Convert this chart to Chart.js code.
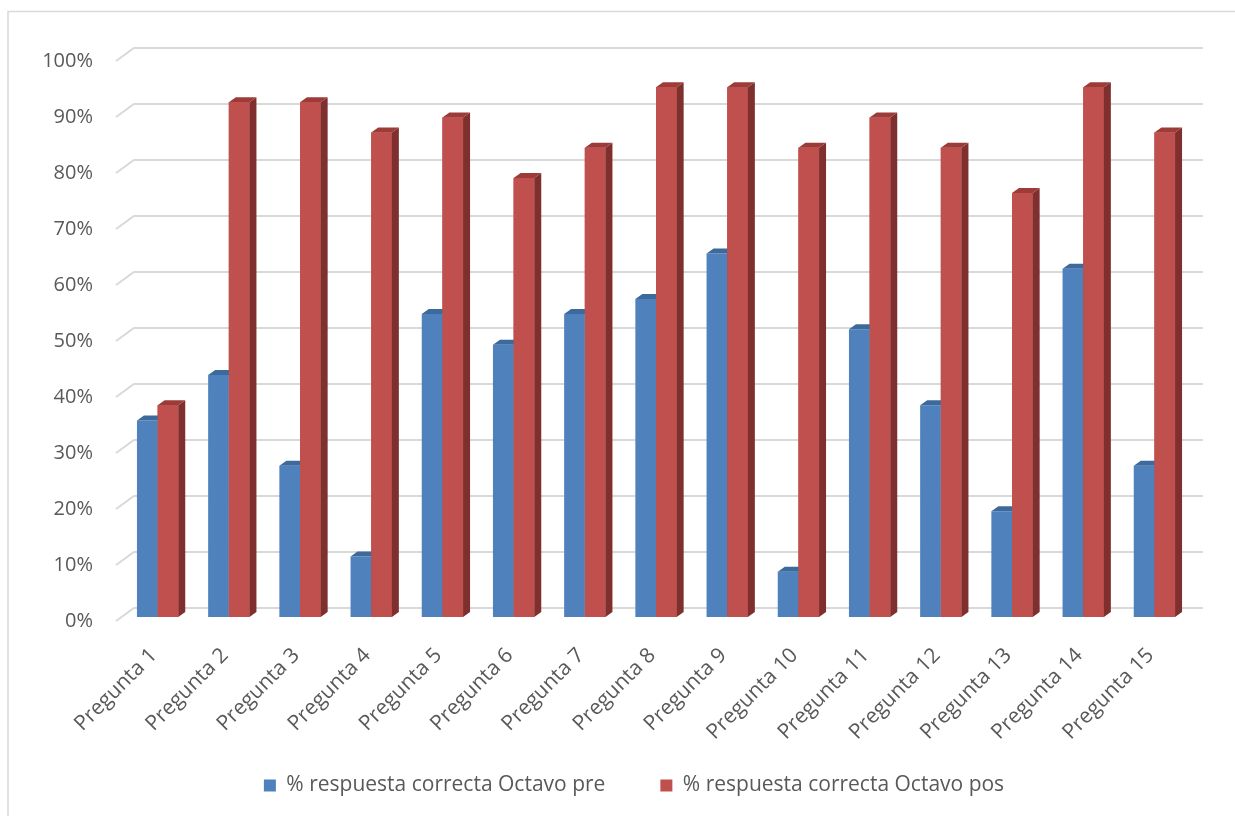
<!DOCTYPE html>
<html>
<head>
<meta charset="utf-8">
<script src="https://cdn.jsdelivr.net/npm/chart.js@4.4.1/dist/chart.umd.min.js"></script>
<style>
  body { margin: 0; background: #fff; }
  #wrap { position: relative; width: 1235px; height: 816px; }
</style>
</head>
<body>
<div id="wrap"><canvas id="barChart" width="1235" height="816"></canvas></div>
<script>
const categories = [
  "Pregunta 1", "Pregunta 2", "Pregunta 3", "Pregunta 4", "Pregunta 5",
  "Pregunta 6", "Pregunta 7", "Pregunta 8", "Pregunta 9", "Pregunta 10",
  "Pregunta 11", "Pregunta 12", "Pregunta 13", "Pregunta 14", "Pregunta 15"
];
const preValues = [35.1, 43.2, 27.0, 10.8, 54.1, 48.6, 54.1, 56.8, 64.9, 8.1, 51.4, 37.8, 18.9, 62.2, 27.0];
const posValues = [37.8, 91.9, 91.9, 86.5, 89.2, 78.4, 83.8, 94.6, 94.6, 83.8, 89.2, 83.8, 75.7, 94.6, 86.5];
const seriesNames = ["% respuesta correcta Octavo pre", "% respuesta correcta Octavo pos"];
const yTicks = [0, 10, 20, 30, 40, 50, 60, 70, 80, 90, 100];

// side / top face colours for the fake 3D look
const faceColors = [
  { side: "#3a6394", top: "#3d6a9c" },
  { side: "#7f2f2d", top: "#9c3b38" }
];
const DEPTH_X = 7, DEPTH_Y = 5;

function drawFaces(c, meta, cols) {
  meta.data.forEach(bar => {
    const p = bar.getProps(["x", "y", "base", "width"], true);
    const l = p.x - p.width / 2, r = p.x + p.width / 2;
    c.fillStyle = cols.side;
    c.beginPath();
    c.moveTo(r, p.y);
    c.lineTo(r + DEPTH_X, p.y - DEPTH_Y);
    c.lineTo(r + DEPTH_X, p.base - DEPTH_Y);
    c.lineTo(r, p.base);
    c.closePath();
    c.fill();
    c.fillStyle = cols.top;
    c.beginPath();
    c.moveTo(l, p.y);
    c.lineTo(l + DEPTH_X, p.y - DEPTH_Y);
    c.lineTo(r + DEPTH_X, p.y - DEPTH_Y);
    c.lineTo(r, p.y);
    c.closePath();
    c.fill();
  });
}

// back wall gridlines with the little slanted floor edge, plus bar depth
const wallGrid = {
  id: "wallGrid",
  beforeDraw(chart) {
    const c = chart.ctx;
    c.save();
    c.strokeStyle = "#d9d9d9";
    c.lineWidth = 1.5;
    c.beginPath();
    c.moveTo(8, 816);
    c.lineTo(8, 11.5);
    c.lineTo(1235, 11.5);
    c.stroke();
    c.restore();
  },
  beforeDatasetsDraw(chart) {
    const c = chart.ctx;
    const y = chart.scales.y;
    const area = chart.chartArea;
    c.save();
    c.strokeStyle = "#d9d9d9";
    c.lineWidth = 2;
    yTicks.forEach(v => {
      const py = y.getPixelForValue(v);
      c.beginPath();
      c.moveTo(area.left - 6, py + 4);
      c.lineTo(area.left + 12, py - 9);
      c.lineTo(area.right + 13, py - 9);
      c.stroke();
    });
    c.restore();
  },
  afterDatasetsDraw(chart) {
    const c = chart.ctx;
    c.save();
    drawFaces(c, chart.getDatasetMeta(0), faceColors[0]);
    // red fronts go over the blue side faces
    const redMeta = chart.getDatasetMeta(1);
    redMeta.data.forEach(bar => bar.draw(c, chart.chartArea));
    drawFaces(c, redMeta, faceColors[1]);
    c.restore();
  }
};

Chart.defaults.font.family = "'Open Sans', sans-serif";
Chart.defaults.color = "#595959";

new Chart(document.getElementById("barChart"), {
  type: "bar",
  data: {
    labels: categories,
    datasets: [
      { label: seriesNames[0], data: preValues, backgroundColor: "#4f81bd", yAxisID: "y" },
      { label: seriesNames[1], data: posValues, backgroundColor: "#c0504d", yAxisID: "y" }
    ]
  },
  options: {
    responsive: false,
    animation: false,
    categoryPercentage: 0.58,
    barPercentage: 1.0,
    layout: { padding: { top: 57, right: 0, bottom: 10, left: 33 } },
    scales: {
      x: {
        grid: { display: false, drawTicks: false },
        border: { display: false },
        ticks: {
          font: { size: 21 },
          minRotation: 45,
          maxRotation: 45,
          // mirror skips the label clip box; negative padding puts them back below the axis
          mirror: true,
          padding: -44,
          labelOffset: 14,
          autoSkip: false
        },
        afterFit(scale) { scale.height = 103; }
      },
      y: {
        min: 0,
        max: 100,
        grid: { display: false, drawTicks: false },
        border: { display: false },
        ticks: {
          stepSize: 10,
          font: { size: 20 },
          padding: 29,
          labelOffset: 4,
          callback: v => v + "%"
        },
        afterFit(scale) { scale.width = 89; }
      },
      y2: {
        position: "right",
        grid: { display: false, drawTicks: false },
        border: { display: false },
        ticks: { display: false },
        afterFit(scale) { scale.width = 45; }
      }
    },
    plugins: {
      legend: {
        position: "bottom",
        labels: {
          boxWidth: 12,
          boxHeight: 12,
          padding: 55,
          font: { size: 21 }
        }
      },
      tooltip: { enabled: false }
    }
  },
  plugins: [wallGrid]
});
</script>
</body>
</html>
